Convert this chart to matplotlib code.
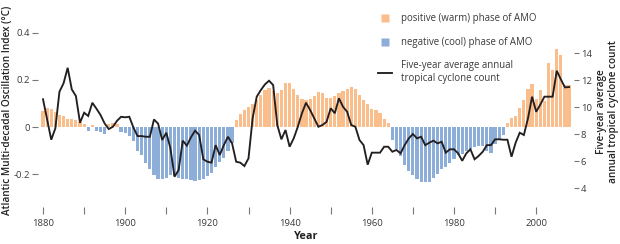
import numpy as np
import matplotlib.pyplot as plt
from matplotlib.lines import Line2D

plt.rcParams['font.family'] = ['Open Sans', 'DejaVu Sans']

years = np.arange(1880, 2009)

# Atlantic Multi-decadal Oscillation index (deg C), one value per year
amo_index = [
    0.070, 0.080, 0.078, 0.065, 0.053, 0.045, 0.035, 0.035, 0.028, 0.022,
    0.012, -0.015, 0.010, -0.015, -0.020, -0.030, 0.012, 0.015, 0.012, -0.020,
    -0.027, -0.040, -0.060, -0.100, -0.120, -0.155, -0.180, -0.205, -0.220, -0.222,
    -0.215, -0.205, -0.210, -0.215, -0.220, -0.220, -0.225, -0.230, -0.225, -0.220,
    -0.210, -0.195, -0.170, -0.150, -0.130, -0.100, -0.070, 0.030, 0.055, 0.072,
    0.087, 0.098, 0.115, 0.136, 0.157, 0.165, 0.155, 0.146, 0.157, 0.186,
    0.189, 0.160, 0.136, 0.118, 0.115, 0.118, 0.130, 0.150, 0.146, 0.124,
    0.123, 0.130, 0.146, 0.155, 0.163, 0.170, 0.160, 0.137, 0.115, 0.096,
    0.075, 0.074, 0.060, 0.035, 0.015, -0.055, -0.092, -0.125, -0.160, -0.185,
    -0.205, -0.222, -0.233, -0.235, -0.232, -0.215, -0.198, -0.180, -0.168, -0.153,
    -0.135, -0.120, -0.114, -0.100, -0.095, -0.085, -0.080, -0.080, -0.100, -0.110,
    -0.072, -0.055, -0.035, 0.018, 0.038, 0.048, 0.082, 0.114, 0.160, 0.185,
    0.120, 0.158, 0.110, 0.272, 0.244, 0.330, 0.305, 0.180, 0.180,
]

# five-year average annual tropical cyclone count
cyclone_count = [
    10.6, 9.1, 7.6, 8.44, 11.16, 11.78, 12.93, 11.33, 10.84, 8.86,
    9.6, 9.36, 10.34, 9.9, 9.43, 8.8, 8.39, 8.56, 9.0, 9.3,
    9.26, 9.3, 8.5, 7.87, 7.87, 7.82, 7.82, 9.1, 8.79, 7.58,
    8.12, 6.96, 4.86, 5.36, 7.53, 7.16, 7.78, 8.27, 7.95, 6.15,
    5.97, 5.9, 7.2, 6.47, 7.2, 7.82, 7.33, 5.97, 5.9, 5.65,
    6.22, 9.18, 10.79, 11.28, 11.7, 11.97, 11.65, 8.69, 7.63, 8.32,
    7.08, 7.7, 8.56, 9.56, 10.34, 9.8, 9.18, 8.56, 8.69, 8.93,
    9.93, 9.56, 10.67, 10.04, 9.67, 8.69, 8.56, 7.58, 7.2, 5.75,
    6.64, 6.64, 6.64, 7.08, 7.08, 6.71, 6.84, 6.59, 7.2, 7.7,
    8.02, 7.7, 7.82, 7.2, 7.38, 7.53, 7.33, 7.45, 6.64, 6.89,
    6.89, 6.59, 6.04, 6.59, 6.89, 6.15, 6.4, 6.71, 7.2, 7.2,
    7.63, 7.63, 7.6, 7.6, 6.34, 7.38, 8.12, 7.95, 9.18, 10.79,
    9.67, 10.2, 10.79, 10.79, 10.79, 12.71, 12.07, 11.48, 11.5,
]

x_ticks = list(range(1880, 2001, 10))
x_tick_labels = [str(y) if y % 20 == 0 else '' for y in x_ticks]
left_ticks = [-0.2, 0, 0.2, 0.4]
left_tick_labels = ['-0.2', '0', '0.2', '0.4']
right_ticks = [4, 6, 8, 10, 12, 14]

warm = '#FABD8C'
cool = '#8EAEDA'
line_color = '#231F20'
text_color = '#3a3a3a'

W, H = 620, 244
fig = plt.figure(figsize=(W / 100, H / 100), dpi=100)
ax = fig.add_axes([38 / W, (H - 207) / H, 536 / W, 187 / H])
ax2 = ax.twinx()

amo = np.array(amo_index)
colors = [warm if v >= 0 else cool for v in amo]
ax.bar(years, amo, width=0.78, color=colors, linewidth=0)

ax2.plot(years, cyclone_count, color=line_color, lw=1.35, solid_joinstyle='miter')

ax.set_xlim(1878.78, 2009.2)
ax.set_ylim(-0.340, 0.455)
ax2.set_ylim(2.615, 16.47)

for a in (ax, ax2):
    for s in a.spines.values():
        s.set_visible(False)

ax.set_xticks(x_ticks)
ax.set_xticklabels(x_tick_labels)
ax.set_yticks(left_ticks)
ax.set_yticklabels(left_tick_labels)
ax2.set_yticks(right_ticks)

ax.tick_params(axis='x', length=5, width=0.8, color='#777777', pad=4,
               labelsize=6.8, labelcolor=text_color)
ax.tick_params(axis='y', length=4, width=0.8, color='#777777', pad=1.5,
               labelsize=6.8, labelcolor=text_color)
ax2.tick_params(axis='y', length=3.5, width=0.8, color='#777777', pad=1.5,
                labelsize=6.8, labelcolor=text_color)

ax.set_ylabel('Atlantic Multi-decadal Oscillation Index (°C)', fontsize=7.2,
              fontweight='semibold', color='#222222')
ax.yaxis.set_label_coords(-0.046, 0.515)
ax2.set_ylabel('Five-year average\nannual tropical cyclone count', fontsize=7.2,
               fontweight='semibold', color='#222222', linespacing=1.1)
ax2.yaxis.set_label_coords(1.041, 0.508)
ax.set_xlabel('Year', fontsize=7.8, fontweight='bold', color='#222222')
ax.xaxis.set_label_coords(0.5, -0.13)

handles = [
    Line2D([], [], ls='none', marker='s', ms=6.2, mfc=warm, mec='none'),
    Line2D([], [], ls='none', marker='s', ms=6.2, mfc=cool, mec='none'),
    Line2D([], [], color=line_color, lw=1.35),
]
labels = ['positive (warm) phase of AMO', 'negative (cool) phase of AMO',
          'Five-year average annual\ntropical cyclone count']
fig.legend(handles, labels, loc='upper left', bbox_to_anchor=(378 / W, 1 - 13.5 / H),
           frameon=False, fontsize=6.9, handlelength=1.5, handletextpad=0.85,
           labelspacing=1.3, borderpad=0, borderaxespad=0, labelcolor=text_color)

fig.savefig('out.png', dpi=100)
